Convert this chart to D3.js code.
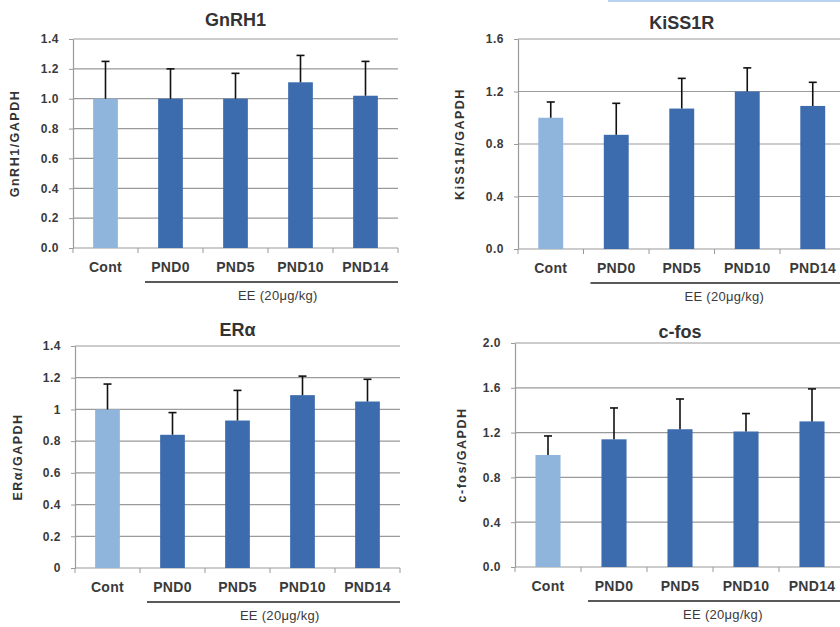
<!DOCTYPE html>
<html>
<head>
<meta charset="utf-8">
<script src="https://cdn.jsdelivr.net/npm/d3@7"></script>
<style>
  body { margin: 0; background: #fff; }
  svg { display: block; font-family: "Liberation Sans", Arial, sans-serif; }
</style>
</head>
<body>
<svg id="chart" width="840" height="627"></svg>
<script>
const groups = ['Cont', 'PND0', 'PND5', 'PND10', 'PND14'];

const gnrh1Mean = [1.00, 1.00, 1.00, 1.11, 1.02];
const gnrh1Top  = [1.25, 1.20, 1.17, 1.29, 1.25];
const gnrh1Ticks = [0, 0.2, 0.4, 0.6, 0.8, 1.0, 1.2, 1.4];

const kiss1rMean = [1.00, 0.87, 1.07, 1.20, 1.09];
const kiss1rTop  = [1.12, 1.11, 1.30, 1.38, 1.27];
const kiss1rTicks = [0, 0.4, 0.8, 1.2, 1.6];

const eraMean = [1.00, 0.84, 0.93, 1.09, 1.05];
const eraTop  = [1.16, 0.98, 1.12, 1.21, 1.19];
const eraTicks = [0, 0.2, 0.4, 0.6, 0.8, 1, 1.2, 1.4];

const cfosMean = [1.00, 1.14, 1.23, 1.21, 1.30];
const cfosTop  = [1.17, 1.42, 1.50, 1.37, 1.59];
const cfosTicks = [0, 0.4, 0.8, 1.2, 1.6, 2.0];

const doseLabel = 'EE (20\u03bcg/kg)';

const svg = d3.select('#chart');

// panel frames are layout, values come from the arrays above
const panels = [
  { title: 'GnRH1', ylab: 'GnRH1/GAPDH', mean: gnrh1Mean, top: gnrh1Top, ticks: gnrh1Ticks, fmt: d3.format('.1f'),
    x0: 73, bw: 65, y0: 39, y1: 248, titleY: 26, ylabX: 19, lineClip: 398 },
  { title: 'KiSS1R', ylab: 'KiSS1R/GAPDH', mean: kiss1rMean, top: kiss1rTop, ticks: kiss1rTicks, fmt: d3.format('.1f'),
    x0: 518, bw: 65.5, y0: 39, y1: 249, titleY: 29, ylabX: 464, lineClip: 845 },
  { title: 'ER\u03b1', ylab: 'ER\u03b1/GAPDH', mean: eraMean, top: eraTop, ticks: eraTicks, fmt: d => String(d),
    x0: 75, bw: 65, y0: 346, y1: 568, titleY: 336, ylabX: 22, lineClip: 400 },
  { title: 'c-fos', ylab: 'c-fos/GAPDH', mean: cfosMean, top: cfosTop, ticks: cfosTicks, fmt: d3.format('.1f'),
    x0: 515, bw: 66, y0: 343, y1: 567, titleY: 338, ylabX: 466, lineClip: 845 }
];

// thin blue strip at top right edge of the scan
svg.append('rect')
  .attr('x', 608).attr('y', 0).attr('width', 232).attr('height', 2)
  .attr('fill', '#b9d3ee');

panels.forEach(drawPanel);

function drawPanel(p) {
  const g = svg.append('g');
  const xEnd = p.x0 + p.bw * groups.length;

  const x = d3.scaleBand().domain(groups).range([p.x0, xEnd]).padding(0);
  const y = d3.scaleLinear()
    .domain([0, p.ticks[p.ticks.length - 1]])
    .range([p.y1, p.y0]);

  const barW = x.bandwidth() * 0.38;

  // gridlines
  g.selectAll('.grid')
    .data(p.ticks.slice(1))
    .enter().append('line')
    .attr('x1', p.x0).attr('x2', Math.min(xEnd, 840))
    .attr('y1', d => y(d)).attr('y2', d => y(d))
    .attr('stroke', '#9a9a9a')
    .attr('stroke-width', 1.2);

  // y axis
  const yAxis = d3.axisLeft(y).tickValues(p.ticks).tickFormat(p.fmt)
    .tickSize(4).tickSizeOuter(0).tickPadding(10);
  const ya = g.append('g').attr('transform', `translate(${p.x0},0)`).call(yAxis);
  ya.select('.domain').attr('stroke', '#9a9a9a').attr('stroke-width', 1.2);
  ya.selectAll('.tick line').attr('stroke', '#9a9a9a');
  ya.selectAll('.tick text')
    .attr('fill', '#3a3a3a')
    .style('font-size', '12px')
    .style('letter-spacing', '0.5px')
    .style('font-weight', 'bold');

  // x axis baseline with band separators
  g.append('line')
    .attr('x1', p.x0).attr('x2', Math.min(xEnd, 840))
    .attr('y1', p.y1).attr('y2', p.y1)
    .attr('stroke', '#9a9a9a').attr('stroke-width', 1.2);

  g.selectAll('.sep')
    .data(d3.range(groups.length + 1))
    .enter().append('line')
    .attr('x1', i => p.x0 + i * x.step()).attr('x2', i => p.x0 + i * x.step())
    .attr('y1', p.y1).attr('y2', p.y1 + 5)
    .attr('stroke', '#9a9a9a');

  // bars
  g.selectAll('.bar')
    .data(groups)
    .enter().append('rect')
    .attr('x', d => x(d) + (x.bandwidth() - barW) / 2)
    .attr('y', (d, i) => y(p.mean[i]))
    .attr('width', barW)
    .attr('height', (d, i) => y(0) - y(p.mean[i]))
    .attr('fill', (d, i) => i === 0 ? '#8fb5dd' : '#3c6cae');

  // error bars (upper only)
  const err = g.selectAll('.err')
    .data(groups)
    .enter().append('g')
    .attr('transform', d => `translate(${x(d) + x.bandwidth() / 2},0)`);

  err.append('line')
    .attr('y1', (d, i) => y(p.mean[i])).attr('y2', (d, i) => y(p.top[i]))
    .attr('stroke', '#111').attr('stroke-width', 1.6);
  err.append('line')
    .attr('x1', -4).attr('x2', 4)
    .attr('y1', (d, i) => y(p.top[i])).attr('y2', (d, i) => y(p.top[i]))
    .attr('stroke', '#111').attr('stroke-width', 1.6);

  // category labels
  g.selectAll('.cat')
    .data(groups)
    .enter().append('text')
    .attr('x', d => x(d) + x.bandwidth() / 2)
    .attr('y', p.y1 + 24)
    .attr('text-anchor', 'middle')
    .attr('fill', '#3a3a3a')
    .style('font-size', '14px')
    .style('letter-spacing', '0.3px')
    .style('font-weight', 'bold')
    .text(d => d);

  // treatment bracket
  g.append('line')
    .attr('x1', p.x0 + p.bw + 7).attr('x2', p.lineClip)
    .attr('y1', p.y1 + 34).attr('y2', p.y1 + 34)
    .attr('stroke', '#222').attr('stroke-width', 1.5);

  g.append('text')
    .attr('x', p.x0 + p.bw * 3.15)
    .attr('y', p.y1 + 52)
    .attr('text-anchor', 'middle')
    .attr('fill', '#3a3a3a')
    .style('font-size', '13px')
    .style('letter-spacing', '0.3px')
    .text(doseLabel);

  // title
  g.append('text')
    .attr('x', p.x0 + p.bw * 2.5)
    .attr('y', p.titleY)
    .attr('text-anchor', 'middle')
    .attr('fill', '#333')
    .style('font-size', '18px')
    .style('font-weight', 'bold')
    .text(p.title);

  // y label
  g.append('text')
    .attr('transform', `translate(${p.ylabX},${(p.y0 + p.y1) / 2}) rotate(-90)`)
    .attr('text-anchor', 'middle')
    .attr('fill', '#333')
    .style('font-size', '12.5px')
    .style('letter-spacing', '1.5px')
    .style('font-weight', 'bold')
    .text(p.ylab);
}
</script>
</body>
</html>
